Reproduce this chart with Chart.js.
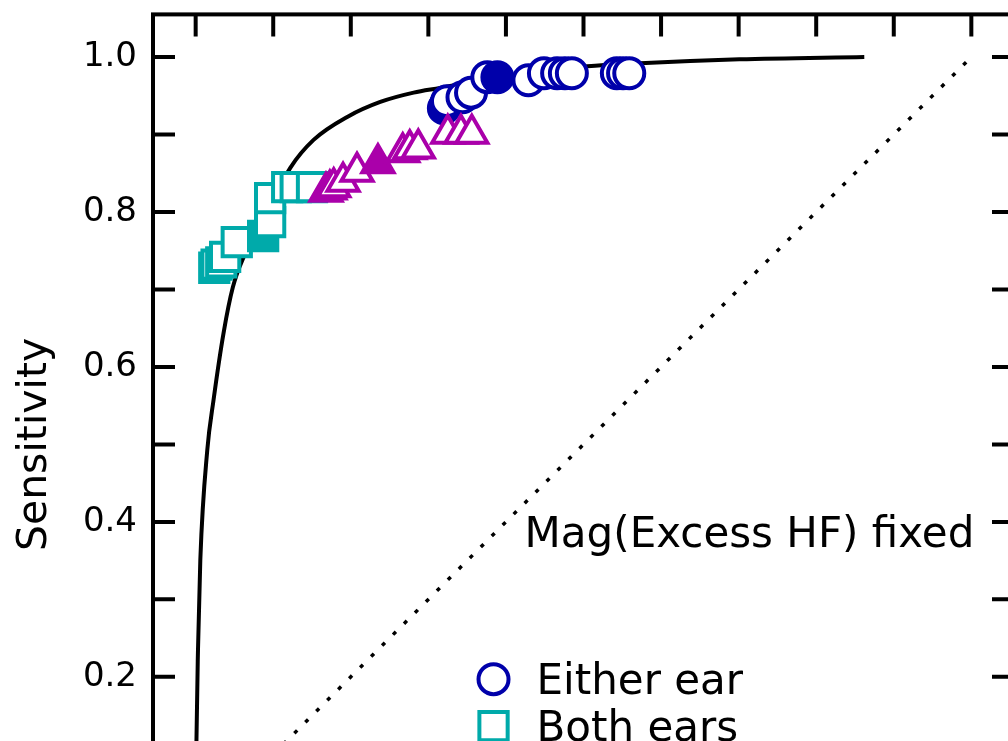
<!DOCTYPE html>
<html>
<head>
<meta charset="utf-8">
<script src="https://cdn.jsdelivr.net/npm/chart.js@4.4.1/dist/chart.umd.min.js"></script>
<style>
  html, body { margin: 0; padding: 0; background: #fff; overflow: hidden; width: 1008px; height: 741px; }
  canvas { position: absolute; left: 0; top: 0; }
</style>
</head>
<body>
<canvas id="roc" width="1100" height="960"></canvas>
<script>
// ROC curve (x = 1 - specificity, y = sensitivity)
var curveX = [0.000, 0.001, 0.003, 0.006, 0.015, 0.023, 0.036, 0.048, 0.062, 0.122, 0.152, 0.196, 0.238, 0.281, 0.315, 0.358, 0.505, 0.573, 0.701, 0.862];
var curveY = [0.000, 0.117, 0.235, 0.351, 0.493, 0.557, 0.644, 0.703, 0.742, 0.857, 0.893, 0.923, 0.942, 0.954, 0.960, 0.968, 0.988, 0.992, 0.997, 1.000];

var chanceX = [0, 1];
var chanceY = [0, 1];

// "Either ear" (circles), filled = 1 for the solid marker
var eitherX = [0.320, 0.322, 0.323, 0.324, 0.344, 0.355, 0.376, 0.389, 0.429, 0.449, 0.466, 0.476, 0.485, 0.543, 0.551, 0.559];
var eitherY = [0.934, 0.937, 0.939, 0.943, 0.948, 0.954, 0.974, 0.974, 0.970, 0.979, 0.979, 0.979, 0.979, 0.979, 0.979, 0.979];
var eitherFilled = [0, 0, 0, 0, 0, 0, 0, 1, 0, 0, 0, 0, 0, 0, 0, 0];

// "Both ears" (squares)
var bothX = [0.024, 0.027, 0.033, 0.038, 0.053, 0.087, 0.096, 0.096, 0.118, 0.129, 0.150];
var bothY = [0.728, 0.732, 0.735, 0.742, 0.761, 0.769, 0.787, 0.818, 0.832, 0.832, 0.832];
var bothFilled = [0, 0, 0, 0, 0, 1, 0, 0, 0, 0, 0];

// third group (triangles), its legend entry is outside the picture
var triX = [0.168, 0.173, 0.178, 0.190, 0.208, 0.235, 0.267, 0.276, 0.287, 0.325, 0.342, 0.356];
var triY = [0.826, 0.829, 0.832, 0.839, 0.852, 0.863, 0.877, 0.881, 0.882, 0.901, 0.901, 0.901];
var triFilled = [0, 0, 0, 0, 0, 1, 0, 0, 0, 0, 0, 0];

var xTicks = [0, 0.1, 0.2, 0.3, 0.4, 0.5, 0.6, 0.7, 0.8, 0.9, 1.0];
var yTicks = [0, 0.1, 0.2, 0.3, 0.4, 0.5, 0.6, 0.7, 0.8, 0.9, 1.0];
var yTickLabels = ['0.0', '', '0.2', '', '0.4', '', '0.6', '', '0.8', '', '1.0'];

var annotation = 'Mag(Excess HF) fixed';
var legendLabels = ['Either ear', 'Both ears'];

var BLUE = 'rgb(0,0,170)';
var TEAL = 'rgb(0,170,170)';
var MAGENTA = 'rgb(170,0,170)';
var FONT = '"DejaVu Sans", sans-serif';

// wanted plot box: top edge at 14 px, 860 px tall
var PLOT_TOP = 14, PLOT_H = 860;

function toPoints(xs, ys) {
    return xs.map(function (x, i) { return { x: x, y: ys[i] }; });
}
function fills(flags, color) {
    return flags.map(function (f) { return f ? color : '#ffffff'; });
}

var eitherSet = {
    label: legendLabels[0], data: toPoints(eitherX, eitherY),
    pointStyle: 'circle', pointRadius: 15, pointBorderWidth: 4,
    borderColor: BLUE, pointBorderColor: BLUE, pointBackgroundColor: fills(eitherFilled, BLUE)
};
var bothSet = {
    label: legendLabels[1], data: toPoints(bothX, bothY),
    pointStyle: 'rect', pointRadius: 20, pointBorderWidth: 4,
    borderColor: TEAL, pointBorderColor: TEAL, pointBackgroundColor: fills(bothFilled, TEAL)
};
var triSet = {
    label: '', data: toPoints(triX, triY),
    pointStyle: 'triangle', pointRadius: 18, pointBorderWidth: 4,
    borderColor: MAGENTA, pointBorderColor: MAGENTA, pointBackgroundColor: fills(triFilled, MAGENTA)
};

// frame with inward ticks on all four sides, annotation and legend
var decorations = {
    id: 'decorations',
    afterDraw: function (chart) {
        var ctx = chart.ctx, a = chart.chartArea;
        var xs = chart.scales.x, ys = chart.scales.y;
        var len = 22;
        ctx.save();
        ctx.strokeStyle = '#000';
        ctx.lineWidth = 4;
        ctx.lineCap = 'butt';
        ctx.strokeRect(a.left, a.top, a.right - a.left, a.bottom - a.top);
        ctx.beginPath();
        xTicks.forEach(function (v) {
            var p = xs.getPixelForValue(v);
            ctx.moveTo(p, a.top); ctx.lineTo(p, a.top + len);
            ctx.moveTo(p, a.bottom); ctx.lineTo(p, a.bottom - len);
        });
        yTicks.forEach(function (v) {
            var p = ys.getPixelForValue(v);
            ctx.moveTo(a.left, p); ctx.lineTo(a.left + len, p);
            ctx.moveTo(a.right, p); ctx.lineTo(a.right - len, p);
        });
        ctx.stroke();

        // annotation, right aligned on x = 1
        ctx.fillStyle = '#000';
        ctx.font = '42px ' + FONT;
        ctx.textAlign = 'right';
        ctx.textBaseline = 'alphabetic';
        ctx.fillText(annotation, xs.getPixelForValue(1.0) + 3, ys.getPixelForValue(0.368));

        // legend
        var lx = xs.getPixelForValue(0.384);
        var ly = ys.getPixelForValue(0.197);
        [eitherSet, bothSet].forEach(function (ds, i) {
            var y = ly + i * 47;
            ctx.fillStyle = '#ffffff';
            ctx.strokeStyle = ds.pointBorderColor;
            ctx.lineWidth = ds.pointBorderWidth;
            Chart.helpers.drawPoint(ctx, { pointStyle: ds.pointStyle, radius: ds.pointRadius, rotation: 0, borderWidth: ds.pointBorderWidth }, lx, y);
            ctx.fillStyle = '#000';
            ctx.textAlign = 'left';
            ctx.fillText(ds.label, lx + 43, y + 15);
        });
        ctx.restore();
    }
};

var canvas = document.getElementById('roc');
var chart = new Chart(canvas, {
    type: 'scatter',
    data: {
        datasets: [
            triSet,
            bothSet,
            eitherSet,
            {
                label: 'ROC', data: toPoints(curveX, curveY), showLine: true,
                borderColor: '#000', borderWidth: 4, pointRadius: 0,
                cubicInterpolationMode: 'monotone'
            },
            {
                label: 'chance', data: toPoints(chanceX, chanceY), showLine: true,
                borderColor: '#000', borderWidth: 3.5, borderDash: [4, 11.5], pointRadius: 0
            }
        ]
    },
    options: {
        responsive: false,
        devicePixelRatio: 1,
        animation: false,
        events: [],
        layout: { autoPadding: false, padding: { top: 14, right: 86, bottom: 86, left: 0 } },
        scales: {
            x: {
                type: 'linear', min: -0.055, max: 1.055, display: false
            },
            y: {
                type: 'linear', min: -0.055, max: 1.055,
                afterFit: function (scale) { scale.width = 153; },
                afterBuildTicks: function (scale) {
                    scale.ticks = yTicks.map(function (v) { return { value: v }; });
                },
                grid: { display: false, drawTicks: false },
                border: { display: false },
                ticks: {
                    autoSkip: false, padding: 16, color: '#000',
                    font: { family: FONT, size: 34 },
                    callback: function (v, i) { return yTickLabels[i]; }
                },
                title: {
                    display: true, text: 'Sensitivity', color: '#000',
                    font: { family: FONT, size: 41 },
                    padding: { top: 11, bottom: 0 }
                }
            }
        },
        plugins: { legend: { display: false }, tooltip: { enabled: false } }
    },
    plugins: [decorations]
});

// keep the plot box 860 px tall, then slide the canvas so its top edge sits at 14 px
var area = chart.chartArea;
chart.options.layout.padding.bottom += (area.bottom - area.top) - PLOT_H;
chart.update();
canvas.style.top = (PLOT_TOP - chart.chartArea.top) + 'px';
</script>
</body>
</html>
